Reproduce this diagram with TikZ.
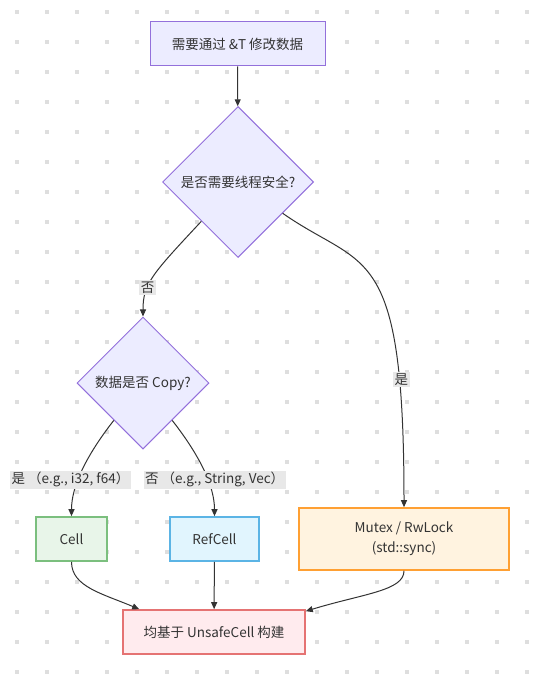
\documentclass[tikz,border=0pt]{standalone}
\usepackage{fontspec}
\setmainfont{Noto Sans CJK SC}
\usetikzlibrary{shapes.geometric,arrows.meta}
\definecolor{ink}{HTML}{333333}
\definecolor{dotgrey}{HTML}{DEDEDE}
\definecolor{lblgrey}{HTML}{E8E8E8}
\definecolor{qfill}{HTML}{ECECFF}
\definecolor{qline}{HTML}{9370DB}
\definecolor{cellfill}{HTML}{E8F5E9}
\definecolor{cellline}{HTML}{7BBF7E}
\definecolor{reffill}{HTML}{E1F5FE}
\definecolor{refline}{HTML}{5BB4E5}
\definecolor{mutexfill}{HTML}{FFF3E0}
\definecolor{mutexline}{HTML}{FFA033}
\definecolor{basefill}{HTML}{FFEBEE}
\definecolor{baseline}{HTML}{E57373}
\begin{document}
\begin{tikzpicture}[->, >={Triangle[length=7pt,width=6pt]}, x=1pt, y=1pt,
    font=\fontsize{13.5}{20}\selectfont, text=ink,
    box/.style={rectangle, draw=qline, fill=qfill, line width=1pt, minimum height=44pt},
    choice/.style={diamond, draw=qline, fill=qfill, line width=1pt, inner sep=0pt},
    kind/.style={rectangle, line width=1.6pt, minimum height=44pt},
    lbl/.style={fill=lblgrey, inner sep=1.5pt, text=ink},
    link/.style={draw=ink, line width=1pt}]
    \useasboundingbox (0,0) rectangle (550,-674);
    % dotted background
    \foreach \i in {0,...,17}
        \foreach \j in {0,...,22}
            \fill[dotgrey] (15+30*\i,-10-30*\j) rectangle ++(4,-4);
    \node [box, minimum width=175pt] (need) at (237.5,-44) {需要通过 \&T 修改数据};
    \node [choice, minimum width=151pt, minimum height=151pt] (safe) at (238,-182) {是否需要线程安全?};
    \node [choice, minimum width=132pt, minimum height=132pt] (copy) at (143,-383) {数据是否 Copy?};
    \node [kind, draw=cellline, fill=cellfill, minimum width=71pt] (cell) at (71.5,-539) {Cell};
    \node [kind, draw=refline, fill=reffill, minimum width=89pt] (refcell) at (214.5,-539) {RefCell};
    \node [kind, draw=mutexline, fill=mutexfill, minimum width=210pt, minimum height=62pt, align=center] (mutex) at (404,-539) {Mutex / RwLock\\(std::sync)};
    \node [kind, draw=baseline, fill=basefill, minimum width=182pt] (unsafe) at (214,-632) {均基于 UnsafeCell 构建};
    \path (need) edge [link] (safe);
    \path (safe) edge [link, out=-133, in=90, out distance=72pt, in distance=33pt] node [lbl, pos=0.65] {否} (copy);
    \path (safe) edge [link, out=-35, in=90, out distance=100pt, in distance=268pt] node [lbl, pos=0.8, xshift=2pt] {是} (mutex);
    \path (copy) edge [link, out=-128, in=90, out distance=45pt, in distance=30pt] node [lbl, pos=0.6, xshift=-8pt] {是 （e.g., i32, f64）} (cell);
    \path (copy) edge [link, out=-52, in=90, out distance=45pt, in distance=30pt] node [lbl, pos=0.6, xshift=7pt] {否 （e.g., String, Vec）} (refcell);
    \path (cell) edge [link, out=-90, in=157, out distance=25pt, in distance=40pt] ([xshift=17pt]unsafe.north west);
    \path (refcell) edge [link] (unsafe);
    \path (mutex) edge [link, out=-90, in=17, out distance=20pt, in distance=60pt] ([yshift=-2pt]unsafe.north east);
\end{tikzpicture}
\end{document}
